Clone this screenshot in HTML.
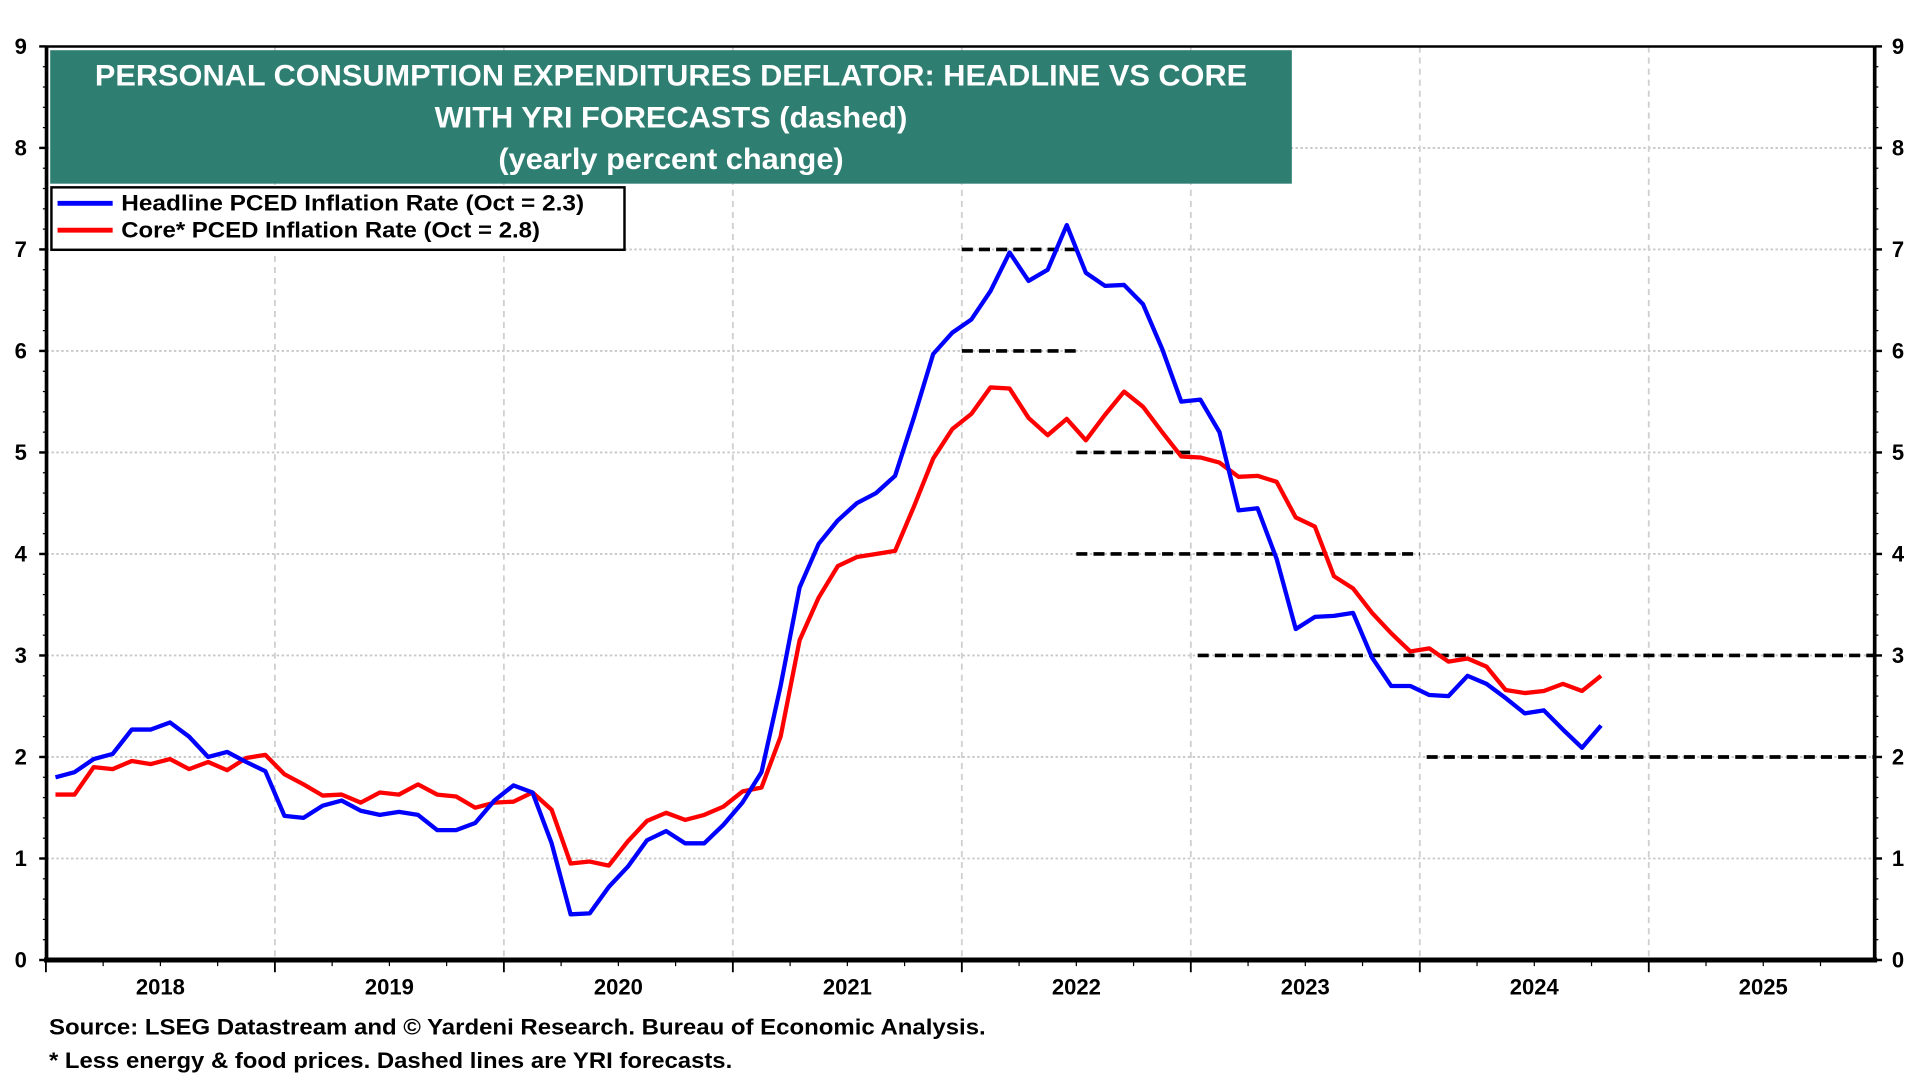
<!DOCTYPE html>
<html><head><meta charset="utf-8"><style>
html,body{margin:0;padding:0;background:#fff;width:1920px;height:1080px;overflow:hidden}
svg text{font-family:"Liberation Sans",Arial,sans-serif;font-weight:bold}
</style></head><body>
<svg id="chart" width="1920" height="1080" viewBox="0 0 1568 882" xmlns="http://www.w3.org/2000/svg">
<g id="grid"></g>
<g id="series"></g>
<g id="axes"></g>
<rect x="41" y="41" width="1014" height="109" fill="#2e7f72"/>
<text x="548" y="70" fill="#fff" font-size="24" text-anchor="middle" textLength="941" lengthAdjust="spacingAndGlyphs">PERSONAL CONSUMPTION EXPENDITURES DEFLATOR: HEADLINE VS CORE</text>
<text x="548" y="104" fill="#fff" font-size="24" text-anchor="middle" textLength="386" lengthAdjust="spacingAndGlyphs">WITH YRI FORECASTS (dashed)</text>
<text x="548" y="138" fill="#fff" font-size="24" text-anchor="middle" textLength="282" lengthAdjust="spacingAndGlyphs">(yearly percent change)</text>
<g>
<rect x="42" y="153" width="468" height="51" fill="#fff" stroke="#000" stroke-width="2"/>
<line x1="47" y1="166" x2="92" y2="166" stroke="#0000ff" stroke-width="4"/>
<text x="99" y="172" font-size="18" textLength="378" lengthAdjust="spacingAndGlyphs">Headline PCED Inflation Rate  (Oct = 2.3)</text>
<line x1="47" y1="188" x2="92" y2="188" stroke="#ff0000" stroke-width="4"/>
<text x="99" y="194" font-size="18" textLength="342" lengthAdjust="spacingAndGlyphs">Core* PCED Inflation Rate (Oct = 2.8)</text>
</g>
<text x="40" y="845" font-size="18" textLength="765" lengthAdjust="spacingAndGlyphs">Source: LSEG Datastream and © Yardeni Research. Bureau of Economic Analysis.</text>
<text x="40" y="872" font-size="18" textLength="558" lengthAdjust="spacingAndGlyphs">* Less energy &amp; food prices. Dashed lines are YRI forecasts.</text>
</svg>
<script>
const headline=[1.8,1.85,1.98,2.03,2.27,2.27,2.34,2.2,2.0,2.05,1.95,1.86,
1.42,1.40,1.52,1.57,1.47,1.43,1.46,1.43,1.28,1.28,1.35,1.57,
1.72,1.65,1.15,0.45,0.46,0.72,0.92,1.18,1.27,1.15,1.15,1.33,
1.55,1.85,2.7,3.67,4.1,4.33,4.5,4.6,4.77,5.35,5.97,6.18,
6.31,6.59,6.97,6.69,6.8,7.24,6.77,6.64,6.65,6.46,6.02,5.5,
5.52,5.2,4.43,4.45,3.95,3.26,3.38,3.39,3.42,2.98,2.7,2.7,
2.61,2.6,2.8,2.72,2.58,2.43,2.46,2.27,2.09,2.31];
const core=[1.63,1.63,1.9,1.88,1.96,1.93,1.98,1.88,1.95,1.87,1.99,2.02,
1.83,1.73,1.62,1.63,1.55,1.65,1.63,1.73,1.63,1.61,1.5,1.55,
1.56,1.65,1.48,0.95,0.97,0.93,1.17,1.37,1.45,1.38,1.43,1.51,
1.66,1.7,2.2,3.15,3.57,3.88,3.97,4.0,4.03,4.47,4.94,5.23,
5.38,5.64,5.63,5.34,5.17,5.33,5.12,5.37,5.6,5.45,5.2,4.96,
4.95,4.9,4.76,4.77,4.71,4.36,4.27,3.78,3.66,3.42,3.22,3.04,
3.07,2.94,2.97,2.89,2.66,2.63,2.65,2.72,2.65,2.8];
const years=["2018","2019","2020","2021","2022","2023","2024","2025"];
const yTicks=[0,1,2,3,4,5,6,7,8,9];
const fcValues=[7,6,5,4,3,2];
const fcStart=[2022.0,2022.0,2022.5,2022.5,2023.03,2024.03];
const fcEnd=[2022.5,2022.5,2023.0,2024.0,2026.0,2026.0];
const X0=37.5,YW=187,Y0=784,YU=82.9,L=38,R=1531,T=38;
function xT(t){return Math.min(X0+(t-2018)*YW,R);}
function xM(m){return X0+(m+0.5)*YW/12;}
function yV(v){return Y0-v*YU;}
const NS="http://www.w3.org/2000/svg";
function mk(tag,attrs,parent){const e=document.createElementNS(NS,tag);for(const k in attrs)e.setAttribute(k,attrs[k]);parent.appendChild(e);return e;}
const grid=document.getElementById('grid'),ser=document.getElementById('series'),ax=document.getElementById('axes');
yTicks.forEach(v=>{if(v>0&&v<9){const g=mk('line',{x1:L,x2:R,y1:yV(v),y2:yV(v),stroke:'#c8c8c8','stroke-width':1.5,'stroke-dasharray':'2,2'},grid);

}
const t1=mk('text',{x:22,y:yV(v)+6,'font-size':18,'text-anchor':'end'},ax);t1.textContent=v;


const t2=mk('text',{x:1545,y:yV(v)+6,'font-size':18},ax);t2.textContent=v;


mk('line',{x1:L-6,x2:L,y1:yV(v),y2:yV(v),stroke:'#000','stroke-width':2},ax);
mk('line',{x1:R,x2:R+6,y1:yV(v),y2:yV(v),stroke:'#000','stroke-width':2},ax);
if(v<9){for(let k=1;k<5;k++){const yy=yV(v+k*0.2);mk('line',{x1:L-3,x2:L,y1:yy,y2:yy,stroke:'#000','stroke-width':1},ax);mk('line',{x1:R,x2:R+3,y1:yy,y2:yy,stroke:'#000','stroke-width':1},ax);}}
});
years.forEach((y,i)=>{const yr=2018+i;
if(i>0){const g=mk('line',{x1:xT(yr),x2:xT(yr),y1:T,y2:Y0,stroke:'#d0d0d0','stroke-width':1.5,'stroke-dasharray':'5,4'},grid);

}
mk('line',{x1:xT(yr),x2:xT(yr),y1:Y0,y2:Y0+10,stroke:'#000','stroke-width':1.5},ax);
for(let q=1;q<4;q++)mk('line',{x1:xT(yr+q/4),x2:xT(yr+q/4),y1:Y0,y2:Y0+5,stroke:'#000','stroke-width':1},ax);
const t=mk('text',{x:xT(yr+0.5),y:812,'font-size':18,'text-anchor':'middle'},ax);t.textContent=y;


});
mk('line',{x1:L,x2:R,y1:T,y2:T,stroke:'#000','stroke-width':2},ax);
mk('line',{x1:L,x2:L,y1:T,y2:Y0,stroke:'#000','stroke-width':3},ax);
mk('line',{x1:R,x2:R,y1:T,y2:Y0,stroke:'#000','stroke-width':3},ax);
mk('line',{x1:L-2,x2:R+2,y1:Y0,y2:Y0,stroke:'#000','stroke-width':4},ax);
fcValues.forEach((v,i)=>{const l=mk('line',{x1:xT(fcStart[i]),x2:xT(fcEnd[i]),y1:yV(v),y2:yV(v),stroke:'#000','stroke-width':3,'stroke-dasharray':'9,5'},ser);

});
function path(arr,col,name){const d=arr.map((v,i)=>(i?'L':'M')+xM(i).toFixed(1)+','+yV(v).toFixed(1)).join('');
const p=mk('path',{d:d,fill:'none',stroke:col,'stroke-width':3.5,'stroke-linejoin':'round'},ser);

}
path(core,'#ff0000','core-line');
path(headline,'#0000ff','headline-line');
</script>
</body></html>
